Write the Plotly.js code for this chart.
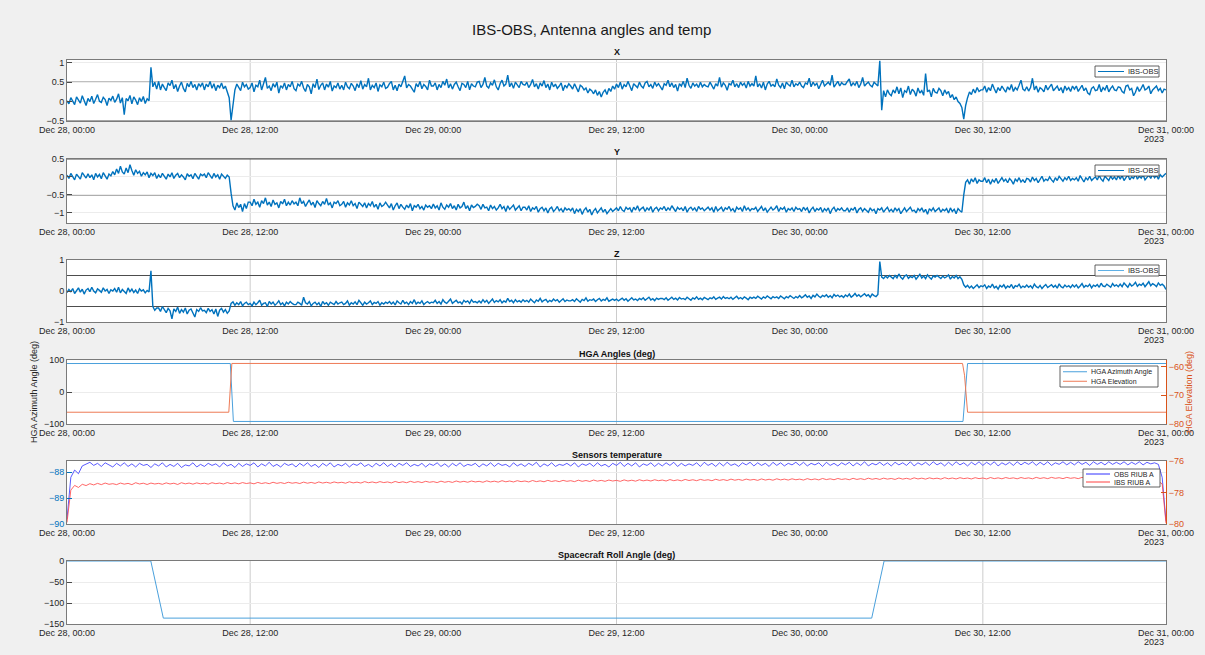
<!DOCTYPE html>
<html>
<head>
<meta charset="utf-8">
<script src="https://cdn.plot.ly/plotly-3.0.1.min.js"></script>
<style>html,body{margin:0;padding:0;background:#f0f0f0;}#chart{width:1205px;height:655px;}</style>
</head>
<body>
<div id="chart"></div>
<script>
// ---------- DATA ----------
const startDate = '2023-12-28T00:00:00Z';
const angleStepHours = 0.125; // X, Y, Z samples every 7.5 minutes
const tempStepHours = 0.25;   // temperature samples every 15 minutes
const tickHours = [0, 12, 24, 36, 48, 60, 72];
const tickLabels = ['Dec 28, 00:00', 'Dec 28, 12:00', 'Dec 29, 00:00', 'Dec 29, 12:00', 'Dec 30, 00:00', 'Dec 30, 12:00', 'Dec 31, 00:00'];
const yearLabel = '2023';

const xAngle = [
 0.02,-0.06,0.10,0.00,-0.08,0.12,0.04,-0.04,0.15,0.02,-0.10,0.08,0.00,0.14,-0.05,0.06,0.18,0.01,-0.02,0.11,0.05,-0.10,0.09,0.03,
 0.14,-0.02,0.06,0.20,-0.04,0.10,-0.34,0.08,0.02,0.16,-0.06,0.12,0.04,-0.08,0.10,0.00,0.13,-0.05,0.07,0.02,0.88,0.38,0.50,0.32,
 0.52,0.30,0.45,0.36,0.28,0.48,0.41,0.55,0.33,0.44,0.26,0.40,0.50,0.34,0.25,0.47,0.38,0.52,0.36,0.44,0.30,0.46,0.39,0.48,
 0.30,0.45,0.38,0.52,0.34,0.46,0.28,0.42,0.36,0.48,0.33,0.40,0.25,0.10,-0.48,0.00,0.30,0.45,0.36,0.28,0.50,0.38,0.44,0.32,
 0.36,0.48,0.25,0.42,0.38,0.55,0.30,0.45,0.62,0.34,0.40,0.28,0.46,0.37,0.50,0.22,0.41,0.35,0.48,0.30,0.44,0.38,0.52,0.33,
 0.28,0.45,0.40,0.52,0.35,0.26,0.44,0.38,0.20,0.46,0.36,0.58,0.31,0.42,0.48,0.30,0.45,0.37,0.52,0.27,0.40,0.36,0.48,0.32,
 0.42,0.30,0.50,0.38,0.33,0.47,0.40,0.28,0.46,0.36,0.54,0.32,0.44,0.38,0.60,0.30,0.42,0.36,0.48,0.26,0.43,0.38,0.50,0.34,
 0.37,0.46,0.52,0.30,0.42,0.28,0.45,0.38,0.50,0.66,0.35,0.44,0.40,0.30,0.24,0.46,0.38,0.52,0.33,0.44,0.39,0.30,0.55,0.40,
 0.40,0.48,0.30,0.44,0.36,0.52,0.42,0.58,0.35,0.46,0.32,0.44,0.50,0.38,0.28,0.47,0.44,0.36,0.52,0.30,0.46,0.40,0.38,0.50,
 0.52,0.36,0.44,0.62,0.40,0.35,0.48,0.42,0.56,0.38,0.30,0.46,0.55,0.40,0.45,0.68,0.38,0.48,0.34,0.50,0.42,0.36,0.52,0.44,
 0.42,0.50,0.36,0.44,0.57,0.38,0.46,0.32,0.48,0.40,0.54,0.36,0.45,0.30,0.50,0.38,0.45,0.34,0.40,0.48,0.28,0.42,0.36,0.46,
 0.40,0.32,0.46,0.36,0.25,0.42,0.38,0.30,0.35,0.22,0.32,0.28,0.20,0.30,0.16,0.26,0.12,0.24,0.30,0.18,0.34,0.26,0.40,0.32,
 0.45,0.36,0.50,0.32,0.44,0.38,0.52,0.40,0.28,0.46,0.42,0.36,0.50,0.40,0.35,0.48,0.52,0.38,0.44,0.34,0.50,0.40,0.46,0.36,
 0.30,0.46,0.42,0.55,0.38,0.48,0.36,0.44,0.27,0.46,0.40,0.52,0.36,0.60,0.42,0.34,0.48,0.40,0.45,0.36,0.50,0.38,0.44,0.40,
 0.38,0.50,0.42,0.32,0.46,0.40,0.62,0.37,0.48,0.42,0.29,0.46,0.43,0.55,0.38,0.46,0.36,0.50,0.42,0.47,0.35,0.52,0.40,0.46,
 0.40,0.66,0.38,0.46,0.35,0.50,0.30,0.45,0.52,0.40,0.44,0.38,0.58,0.42,0.36,0.48,0.33,0.50,0.44,0.40,0.55,0.38,0.46,0.42,
 0.50,0.40,0.36,0.48,0.45,0.60,0.38,0.50,0.42,0.47,0.33,0.46,0.55,0.40,0.44,0.50,0.42,0.68,0.37,0.46,0.52,0.40,0.49,0.44,
 0.44,0.52,0.58,0.40,0.48,0.42,0.52,0.36,0.45,0.62,0.40,0.46,0.50,0.42,0.38,0.50,0.44,0.40,1.05,-0.22,0.28,0.12,0.30,0.20,
 0.15,0.30,0.22,0.38,0.20,0.35,0.10,0.28,0.24,0.40,0.18,0.32,0.26,0.14,0.35,0.22,0.28,0.16,0.72,0.25,0.30,0.12,0.34,0.24,
 0.22,0.34,0.28,0.15,0.30,0.20,0.26,0.10,0.18,0.05,0.12,0.00,-0.05,-0.15,-0.45,-0.10,0.10,0.25,0.18,0.32,0.22,0.36,0.26,0.30,
 0.30,0.40,0.24,0.36,0.28,0.45,0.33,0.22,0.36,0.28,0.40,0.30,0.24,0.38,0.30,0.44,0.26,0.36,0.30,0.42,0.55,0.32,0.28,0.38,
 0.27,0.36,0.60,0.30,0.40,0.24,0.36,0.32,0.25,0.42,0.30,0.38,0.45,0.28,0.34,0.40,0.28,0.36,0.22,0.40,0.30,0.36,0.26,0.40,
 0.32,0.40,0.26,0.36,0.42,0.28,0.35,0.22,0.18,0.34,0.38,0.28,0.30,0.44,0.25,0.36,0.30,0.42,0.25,0.34,0.40,0.30,0.28,0.38,
 0.36,0.26,0.22,0.40,0.42,0.30,0.34,0.15,0.24,0.38,0.26,0.34,0.44,0.30,0.33,0.40,0.20,0.30,0.36,0.40,0.28,0.34,0.22,0.32,
 0.30];

const yAngle = [
 0.05,-0.04,0.10,0.00,-0.08,0.08,0.02,-0.06,0.12,0.04,-0.03,0.09,-0.02,0.06,-0.08,0.10,0.00,0.07,-0.05,0.12,0.02,-0.06,0.08,0.03,
 0.15,0.06,0.22,0.10,0.30,0.14,0.08,0.25,0.12,0.34,0.18,0.05,0.20,0.10,0.16,0.02,0.12,0.06,0.14,-0.02,0.10,0.04,0.12,-0.04,
 0.06,-0.02,0.10,0.02,-0.06,0.08,0.00,0.12,-0.04,0.05,0.10,-0.02,0.06,0.00,-0.08,0.09,0.02,0.06,-0.05,0.10,0.01,-0.06,0.08,0.04,
 0.08,-0.02,0.12,0.02,-0.04,0.10,0.00,0.06,-0.06,0.08,0.02,-0.04,0.05,0.00,-0.45,-0.80,-0.92,-0.72,-0.85,-0.76,-0.96,-0.74,-0.88,-0.70,
 -0.70,-0.80,-0.62,-0.76,-0.70,-0.84,-0.66,-0.74,-0.58,-0.78,-0.70,-0.82,-0.64,-0.76,-0.72,-0.86,-0.68,-0.75,-0.62,-0.80,-0.70,-0.78,-0.66,-0.75,
 -0.70,-0.80,-0.58,-0.74,-0.68,-0.82,-0.72,-0.64,-0.78,-0.70,-0.85,-0.66,-0.74,-0.80,-0.68,-0.76,-0.60,-0.78,-0.72,-0.86,-0.70,-0.74,-0.66,-0.80,
 -0.76,-0.68,-0.84,-0.72,-0.78,-0.66,-0.80,-0.74,-0.88,-0.70,-0.76,-0.82,-0.72,-0.86,-0.74,-0.80,-0.68,-0.84,-0.76,-0.90,-0.72,-0.82,-0.78,-0.70,
 -0.78,-0.86,-0.74,-0.92,-0.80,-0.72,-0.88,-0.76,-0.84,-0.90,-0.78,-0.86,-0.74,-0.94,-0.80,-0.84,-0.76,-0.88,-0.82,-0.92,-0.78,-0.84,-0.80,-0.88,
 -0.75,-0.86,-0.80,-0.92,-0.72,-0.84,-0.90,-0.78,-0.84,-0.74,-0.88,-0.80,-0.92,-0.76,-0.86,-0.82,-0.70,-0.88,-0.80,-0.94,-0.78,-0.85,-0.82,-0.76,
 -0.80,-0.90,-0.76,-0.86,-0.84,-0.94,-0.78,-0.88,-0.82,-0.92,-0.86,-0.76,-0.88,-0.82,-0.96,-0.80,-0.90,-0.84,-0.78,-0.92,-0.86,-0.80,-0.94,-0.84,
 -0.84,-0.92,-0.80,-0.96,-0.86,-0.90,-0.82,-0.98,-0.88,-0.84,-0.94,-0.86,-1.00,-0.88,-0.84,-0.96,-0.90,-0.82,-0.94,-0.88,-0.98,-0.86,-0.92,-0.88,
 -0.94,-0.86,-1.02,-0.90,-0.96,-0.88,-1.04,-0.92,-0.86,-0.98,-0.90,-1.06,-0.94,-0.88,-1.00,-0.92,-0.86,-0.98,-0.90,-1.02,-0.94,-0.88,-0.96,-0.90,
 -0.86,-0.94,-0.82,-0.92,-0.96,-0.84,-0.90,-0.86,-0.98,-0.84,-0.92,-0.80,-0.94,-0.88,-0.84,-0.96,-0.86,-0.92,-0.82,-0.98,-0.88,-0.84,-0.94,-0.86,
 -0.90,-0.82,-0.94,-0.86,-0.92,-0.80,-0.88,-0.96,-0.84,-0.90,-0.86,-0.94,-0.82,-0.98,-0.88,-0.84,-0.92,-0.86,-0.96,-0.82,-0.90,-0.86,-0.94,-0.88,
 -0.84,-0.92,-0.86,-0.98,-0.82,-0.94,-0.88,-0.84,-0.96,-0.86,-0.90,-0.82,-0.94,-0.88,-0.98,-0.84,-0.90,-0.86,-0.96,-0.80,-0.92,-0.86,-0.94,-0.88,
 -0.90,-0.84,-0.96,-0.88,-0.82,-0.94,-0.86,-0.98,-0.90,-0.84,-0.92,-0.88,-0.80,-0.96,-0.86,-0.90,-0.84,-0.98,-0.88,-0.92,-0.86,-0.96,-0.84,-0.90,
 -0.88,-0.96,-0.84,-0.92,-0.86,-1.00,-0.90,-0.84,-0.96,-0.88,-0.92,-0.85,-0.98,-0.88,-0.94,-0.86,-1.02,-0.90,-0.84,-0.96,-0.88,-0.92,-0.86,-0.94,
 -0.94,-0.86,-0.98,-0.88,-0.92,-0.84,-1.00,-0.90,-0.86,-0.96,-0.88,-0.93,-0.98,-0.86,-0.94,-0.90,-1.02,-0.88,-0.92,-0.86,-0.98,-0.90,-0.84,-0.96,
 -0.90,-0.98,-0.86,-0.94,-0.88,-1.02,-0.92,-0.86,-0.96,-0.90,-0.84,-0.95,-0.92,-1.00,-0.88,-0.94,-0.86,-0.98,-0.90,-1.04,-0.88,-0.94,-0.86,-0.96,
 -0.92,-0.86,-0.98,-0.90,-0.94,-0.88,-1.00,-0.86,-0.96,-0.90,-1.02,-0.88,-0.94,-0.98,-0.50,-0.15,-0.08,-0.20,-0.05,-0.14,-0.02,-0.18,-0.08,-0.12,
 -0.12,-0.02,-0.16,-0.06,-0.20,-0.08,-0.14,-0.04,-0.18,-0.10,-0.02,-0.12,-0.06,-0.16,-0.04,-0.10,-0.20,-0.06,-0.12,-0.02,-0.14,-0.08,-0.16,-0.04,
 -0.06,-0.14,0.00,-0.10,-0.04,-0.16,-0.08,0.02,-0.12,-0.06,-0.10,0.00,-0.08,-0.14,-0.02,-0.10,0.02,-0.06,-0.12,-0.02,-0.08,0.02,-0.10,-0.04,
 -0.08,-0.02,-0.12,0.04,-0.06,-0.14,-0.02,-0.08,0.02,-0.10,-0.04,0.00,-0.08,0.04,-0.06,-0.12,0.02,-0.04,-0.10,0.02,-0.06,0.00,-0.08,0.04,
 -0.06,0.04,-0.10,-0.02,0.06,-0.08,0.00,-0.04,0.08,-0.06,0.02,-0.03,0.06,-0.08,0.00,0.05,-0.04,0.08,-0.02,0.04,-0.06,0.06,0.00,0.04,
 0.10];

const zAngle = [
 -0.05,0.05,-0.02,0.08,-0.08,0.02,0.10,-0.04,0.06,-0.10,0.03,0.08,-0.02,0.12,0.00,-0.06,0.07,0.02,-0.04,0.10,0.00,0.05,-0.08,0.04,
 0.00,0.08,-0.04,0.12,-0.06,0.05,0.00,-0.08,0.10,-0.02,0.06,-0.05,0.03,-0.08,0.07,0.00,0.04,-0.06,0.02,-0.03,0.65,-0.50,-0.62,-0.55,
 -0.55,-0.66,-0.50,-0.62,-0.70,-0.56,-0.64,-0.90,-0.58,-0.66,-0.52,-0.72,-0.60,-0.68,-0.55,-0.74,-0.62,-0.58,-0.70,-0.84,-0.60,-0.66,-0.54,-0.64,
 -0.62,-0.70,-0.56,-0.66,-0.60,-0.74,-0.58,-0.82,-0.62,-0.56,-0.68,-0.60,-0.72,-0.64,-0.40,-0.35,-0.46,-0.38,-0.44,-0.34,-0.48,-0.40,-0.36,-0.44,
 -0.40,-0.48,-0.36,-0.44,-0.38,-0.30,-0.46,-0.40,-0.38,-0.50,-0.34,-0.42,-0.36,-0.46,-0.40,-0.32,-0.44,-0.38,-0.48,-0.36,-0.42,-0.34,-0.40,-0.44,
 -0.44,-0.36,-0.40,-0.46,-0.20,-0.38,-0.42,-0.34,-0.48,-0.40,-0.36,-0.44,-0.38,-0.50,-0.34,-0.42,-0.38,-0.46,-0.36,-0.40,-0.44,-0.34,-0.42,-0.38,
 -0.36,-0.44,-0.40,-0.32,-0.46,-0.38,-0.42,-0.35,-0.44,-0.30,-0.40,-0.46,-0.36,-0.42,-0.38,-0.32,-0.44,-0.37,-0.40,-0.34,-0.46,-0.38,-0.42,-0.36,
 -0.40,-0.34,-0.42,-0.36,-0.45,-0.32,-0.38,-0.42,-0.30,-0.40,-0.36,-0.44,-0.34,-0.40,-0.28,-0.42,-0.36,-0.40,-0.32,-0.44,-0.38,-0.34,-0.40,-0.36,
 -0.38,-0.30,-0.40,-0.34,-0.42,-0.28,-0.36,-0.40,-0.33,-0.26,-0.40,-0.34,-0.30,-0.38,-0.35,-0.42,-0.30,-0.36,-0.32,-0.40,-0.28,-0.36,-0.34,-0.38,
 -0.32,-0.38,-0.28,-0.36,-0.30,-0.40,-0.33,-0.26,-0.37,-0.31,-0.35,-0.28,-0.38,-0.32,-0.36,-0.24,-0.34,-0.30,-0.38,-0.28,-0.35,-0.31,-0.36,-0.28,
 -0.34,-0.30,-0.36,-0.26,-0.32,-0.38,-0.29,-0.33,-0.24,-0.35,-0.30,-0.27,-0.36,-0.30,-0.34,-0.26,-0.32,-0.28,-0.36,-0.30,-0.25,-0.34,-0.29,-0.32,
 -0.32,-0.28,-0.34,-0.25,-0.30,-0.36,-0.27,-0.31,-0.22,-0.33,-0.28,-0.30,-0.26,-0.34,-0.28,-0.24,-0.32,-0.27,-0.30,-0.22,-0.33,-0.28,-0.26,-0.30,
 -0.26,-0.32,-0.28,-0.23,-0.30,-0.25,-0.33,-0.27,-0.22,-0.29,-0.26,-0.31,-0.24,-0.28,-0.22,-0.30,-0.26,-0.20,-0.29,-0.25,-0.31,-0.23,-0.27,-0.24,
 -0.24,-0.28,-0.22,-0.30,-0.25,-0.20,-0.27,-0.23,-0.29,-0.21,-0.26,-0.24,-0.28,-0.20,-0.25,-0.30,-0.22,-0.26,-0.19,-0.27,-0.23,-0.28,-0.21,-0.25,
 -0.28,-0.22,-0.25,-0.19,-0.27,-0.23,-0.20,-0.26,-0.18,-0.24,-0.21,-0.25,-0.20,-0.27,-0.22,-0.17,-0.25,-0.21,-0.26,-0.19,-0.23,-0.28,-0.20,-0.24,
 -0.20,-0.24,-0.17,-0.22,-0.26,-0.19,-0.23,-0.16,-0.21,-0.25,-0.18,-0.22,-0.19,-0.24,-0.16,-0.21,-0.25,-0.18,-0.22,-0.15,-0.20,-0.24,-0.18,-0.22,
 -0.15,-0.22,-0.18,-0.12,-0.20,-0.16,-0.24,-0.14,-0.19,-0.10,-0.17,-0.21,-0.14,-0.18,-0.12,-0.20,-0.15,-0.22,-0.11,-0.17,-0.13,-0.19,-0.15,-0.21,
 -0.13,-0.18,-0.10,-0.20,-0.15,-0.08,-0.17,-0.12,-0.19,-0.14,-0.09,-0.16,-0.12,-0.20,-0.10,-0.15,-0.18,-0.11,0.95,0.45,0.40,0.48,0.42,0.50,
 0.46,0.40,0.50,0.42,0.55,0.44,0.38,0.48,0.52,0.41,0.47,0.43,0.50,0.38,0.46,0.54,0.42,0.48,0.40,0.52,0.44,0.38,0.49,0.45,
 0.50,0.44,0.40,0.48,0.42,0.46,0.52,0.38,0.47,0.42,0.50,0.40,0.46,0.38,0.20,0.12,0.18,0.10,0.16,0.08,0.14,0.20,0.11,0.17,
 0.14,0.20,0.08,0.16,0.12,0.22,0.10,0.15,0.06,0.18,0.13,0.20,0.09,0.16,0.12,0.21,0.08,0.17,0.14,0.22,0.10,0.16,0.12,0.19,
 0.12,0.17,0.09,0.22,0.14,0.10,0.18,0.08,0.15,0.21,0.11,0.16,0.20,0.12,0.18,0.09,0.23,0.14,0.10,0.19,0.13,0.17,0.11,0.20,
 0.13,0.20,0.10,0.16,0.24,0.12,0.18,0.14,0.22,0.10,0.19,0.15,0.21,0.12,0.25,0.16,0.14,0.22,0.18,0.12,0.24,0.16,0.20,0.14,
 0.22,0.14,0.26,0.18,0.12,0.24,0.16,0.20,0.28,0.15,0.22,0.18,0.25,0.14,0.22,0.30,0.17,0.24,0.20,0.14,0.26,0.18,0.22,0.16,
 0.05];

const hgaAzHours = [0, 10.7, 10.9, 58.7, 59.0, 72];
const hgaAzimuth = [89, 89, -92, -92, 89, 89];
const hgaElHours = [0, 10.6, 10.8, 58.67, 58.8, 59.0, 72];
const hgaElevation = [-75.9, -75.9, -58.9, -58.9, -63, -75.9, -75.9];

const obsRiubA = [
 -89.80,-88.20,-87.92,-88.06,-87.76,-87.68,-87.62,-87.74,-87.66,-87.78,-87.64,-87.72,
 -87.80,-87.66,-87.76,-87.64,-87.78,-87.68,-87.80,-87.66,-87.74,-87.70,-87.82,-87.68,
 -87.76,-87.64,-87.80,-87.70,-87.78,-87.66,-87.82,-87.72,-87.76,-87.64,-87.80,-87.70,
 -87.78,-87.66,-87.74,-87.68,-87.80,-87.64,-87.76,-87.70,-87.82,-87.66,-87.78,-87.68,
 -87.74,-87.64,-87.80,-87.68,-87.76,-87.62,-87.78,-87.70,-87.80,-87.66,-87.74,-87.68,
 -87.80,-87.66,-87.76,-87.64,-87.78,-87.70,-87.82,-87.66,-87.76,-87.64,-87.80,-87.70,
 -87.76,-87.66,-87.80,-87.68,-87.74,-87.64,-87.78,-87.70,-87.80,-87.66,-87.76,-87.64,
 -87.78,-87.68,-87.80,-87.66,-87.74,-87.64,-87.78,-87.70,-87.76,-87.66,-87.80,-87.68,
 -87.74,-87.64,-87.78,-87.68,-87.80,-87.66,-87.76,-87.64,-87.78,-87.70,-87.74,-87.66,
 -87.80,-87.68,-87.76,-87.64,-87.78,-87.66,-87.74,-87.70,-87.80,-87.64,-87.76,-87.68,
 -87.78,-87.66,-87.74,-87.62,-87.80,-87.68,-87.76,-87.64,-87.78,-87.70,-87.74,-87.66,
 -87.76,-87.64,-87.80,-87.68,-87.74,-87.66,-87.78,-87.64,-87.76,-87.70,-87.80,-87.66,
 -87.74,-87.62,-87.78,-87.66,-87.76,-87.64,-87.80,-87.68,-87.74,-87.64,-87.78,-87.66,
 -87.76,-87.64,-87.74,-87.62,-87.78,-87.66,-87.76,-87.68,-87.74,-87.64,-87.78,-87.62,
 -87.74,-87.66,-87.78,-87.64,-87.76,-87.62,-87.74,-87.68,-87.78,-87.64,-87.72,-87.62,
 -87.76,-87.64,-87.74,-87.66,-87.78,-87.62,-87.74,-87.64,-87.76,-87.66,-87.72,-87.62,
 -87.74,-87.62,-87.76,-87.66,-87.72,-87.64,-87.78,-87.62,-87.74,-87.66,-87.76,-87.64,
 -87.72,-87.62,-87.76,-87.64,-87.74,-87.60,-87.76,-87.66,-87.72,-87.62,-87.74,-87.64,
 -87.76,-87.62,-87.72,-87.64,-87.74,-87.60,-87.76,-87.64,-87.72,-87.62,-87.74,-87.60,
 -87.72,-87.64,-87.76,-87.62,-87.74,-87.60,-87.72,-87.64,-87.76,-87.62,-87.72,-87.60,
 -87.74,-87.62,-87.72,-87.60,-87.76,-87.64,-87.72,-87.62,-87.74,-87.60,-87.72,-87.62,
 -87.70,-87.60,-87.74,-87.62,-87.72,-87.60,-87.74,-87.64,-87.70,-87.60,-87.72,-87.62,
 -87.72,-87.60,-87.70,-87.62,-87.74,-87.60,-87.70,-87.62,-87.72,-87.60,-87.70,-87.62,
 -87.70,-87.60,-87.72,-87.62,-87.70,-87.60,-87.72,-87.62,-87.68,-87.64,-87.70,-88.20,
 -89.90];

const ibsRiubA = [
 -79.90,-77.85,-77.55,-77.68,-77.48,-77.56,-77.44,-77.52,-77.42,-77.50,-77.40,-77.48,
 -77.44,-77.50,-77.40,-77.47,-77.42,-77.50,-77.38,-77.46,-77.41,-77.49,-77.40,-77.46,
 -77.42,-77.48,-77.39,-77.46,-77.41,-77.49,-77.38,-77.45,-77.40,-77.47,-77.39,-77.45,
 -77.41,-77.47,-77.38,-77.44,-77.40,-77.46,-77.37,-77.44,-77.39,-77.45,-77.37,-77.43,
 -77.39,-77.45,-77.36,-77.43,-77.38,-77.44,-77.35,-77.42,-77.37,-77.43,-77.35,-77.41,
 -77.37,-77.43,-77.34,-77.41,-77.36,-77.42,-77.33,-77.40,-77.35,-77.41,-77.33,-77.39,
 -77.35,-77.41,-77.32,-77.39,-77.34,-77.40,-77.31,-77.38,-77.33,-77.39,-77.31,-77.37,
 -77.33,-77.39,-77.30,-77.37,-77.32,-77.38,-77.29,-77.36,-77.31,-77.37,-77.29,-77.35,
 -77.31,-77.37,-77.28,-77.35,-77.30,-77.36,-77.27,-77.34,-77.29,-77.35,-77.27,-77.33,
 -77.29,-77.35,-77.26,-77.33,-77.28,-77.34,-77.25,-77.32,-77.27,-77.33,-77.25,-77.31,
 -77.27,-77.33,-77.24,-77.31,-77.26,-77.32,-77.23,-77.30,-77.25,-77.31,-77.23,-77.29,
 -77.25,-77.31,-77.22,-77.29,-77.24,-77.30,-77.21,-77.28,-77.23,-77.29,-77.21,-77.27,
 -77.23,-77.29,-77.20,-77.27,-77.22,-77.28,-77.19,-77.26,-77.21,-77.27,-77.19,-77.25,
 -77.21,-77.27,-77.18,-77.25,-77.20,-77.26,-77.17,-77.24,-77.19,-77.25,-77.17,-77.23,
 -77.19,-77.25,-77.16,-77.23,-77.18,-77.24,-77.15,-77.22,-77.17,-77.23,-77.15,-77.21,
 -77.17,-77.23,-77.14,-77.21,-77.16,-77.22,-77.13,-77.20,-77.15,-77.21,-77.13,-77.19,
 -77.15,-77.21,-77.12,-77.19,-77.14,-77.20,-77.11,-77.18,-77.13,-77.19,-77.11,-77.17,
 -77.13,-77.19,-77.10,-77.17,-77.12,-77.18,-77.09,-77.16,-77.11,-77.17,-77.09,-77.15,
 -77.11,-77.17,-77.08,-77.15,-77.10,-77.16,-77.07,-77.14,-77.09,-77.15,-77.07,-77.13,
 -77.09,-77.15,-77.06,-77.13,-77.08,-77.14,-77.06,-77.12,-77.08,-77.14,-77.06,-77.12,
 -77.08,-77.14,-77.05,-77.12,-77.07,-77.13,-77.05,-77.11,-77.07,-77.13,-77.05,-77.11,
 -77.07,-77.13,-77.04,-77.11,-77.06,-77.12,-77.04,-77.10,-77.06,-77.12,-77.04,-77.10,
 -77.06,-77.12,-77.04,-77.10,-77.06,-77.12,-77.04,-77.10,-77.06,-77.12,-77.04,-77.10,
 -77.06,-77.12,-77.04,-77.10,-77.06,-77.12,-77.04,-77.10,-77.06,-77.12,-77.30,-77.45,
 -79.95];

const rollHours = [0, 5.49, 6.31, 52.72, 53.53, 72];
const rollAngle = [0, 0, -136, -136, 0, 0];

// ---------- HELPERS ----------
const T0 = Date.parse(startDate);
function ts(h) { return new Date(T0 + h * 3600000).toISOString().slice(0, 19).replace('T', ' '); }
function timesFor(arr, step) { return arr.map((_, i) => ts(i * step)); }

// panel geometry in pixels (plot area: left 67, right 1166, top 60, bottom 624)
const W = 1205, H = 655, ML = 67, MR = 39, MT = 60, MB = 31;
const PH = H - MT - MB, PW = W - ML - MR;
const panels = [[60,121],[159,223],[260,322],[360,424],[461,524],[561,624]];
function py(p) { return (H - MB - p) / PH; }
function px(p) { return (p - ML) / PW; }

const FONT = 'Liberation Sans, Arial, sans-serif';
const TXT = '#262626';
const ORANGE = '#d95319';
const LINEBLUE = '#0072bd';
const AZBLUE = '#4aa0dc';
const ELORANGE = '#ee7a55';
const TEMPBLUE = '#3030ff';
const TEMPRED = '#ff4040';

const layout = {
  width: W, height: H,
  margin: {l: ML, r: MR, t: MT, b: MB},
  paper_bgcolor: '#f0f0f0', plot_bgcolor: '#ffffff',
  font: {family: FONT, size: 9, color: TXT},
  title: {text: 'IBS-OBS, Antenna angles and temp', font: {size: 15, color: '#1a1a1a', family: FONT},
          x: 0.491, xanchor: 'center', xref: 'container', y: 1 - 30 / H, yanchor: 'middle', yref: 'container'},
  showlegend: false,
  hovermode: false,
  shapes: [], annotations: []
};

const yRanges = [[-0.5, 1.07], [-1.28, 0.5], [-1, 1], [-100, 100], [-90, -87.57], [-150, 0]];
const yTicks = [[-0.5, 0, 0.5, 1], [-1, -0.5, 0, 0.5], [-1, 0, 1], [-100, 0, 100], [-90, -89, -88], [-150, -100, -50, 0]];
const panelTitles = ['X', 'Y', 'Z', 'HGA Angles (deg)', 'Sensors temperature', 'Spacecraft Roll Angle (deg)'];
const titleY = [52, 152, 254, 354, 455, 555];

for (let i = 0; i < 6; i++) {
  const n = i === 0 ? '' : String(i + 1);
  const [top, bot] = panels[i];
  layout['xaxis' + n] = {
    domain: [0, 1], anchor: 'y' + n, type: 'date',
    range: [ts(0), ts(72)], tickvals: tickHours.map(ts), ticktext: tickLabels, tickmode: 'array',
    showgrid: false, zeroline: false, showline: true, mirror: true, linecolor: '#7a7a7a', linewidth: 1,
    ticks: '', tickfont: {size: 9, color: TXT}, fixedrange: true
  };
  layout['yaxis' + n] = {
    domain: [py(bot), py(top)], anchor: 'x' + n, range: yRanges[i], tickvals: yTicks[i], tickmode: 'array',
    showgrid: true, gridcolor: '#ececec', zeroline: false, showline: true, mirror: true, linecolor: '#7a7a7a',
    ticks: 'inside', ticklen: 5, tickcolor: '#4a4a4a', tickfont: {size: 9, color: TXT}, fixedrange: true
  };
  layout.annotations.push({text: '<b>' + panelTitles[i] + '</b>', xref: 'paper', yref: 'paper', x: 0.5, y: py(titleY[i]),
    xanchor: 'center', yanchor: 'middle', showarrow: false, font: {size: 9, color: '#111'}});
  layout.annotations.push({text: yearLabel, xref: 'paper', yref: 'paper', x: px(1142), y: py(bot + 18),
    xanchor: 'left', yanchor: 'middle', showarrow: false, font: {size: 9, color: TXT}});
  [12, 36, 60].forEach(h => layout.shapes.push({type: 'line', xref: 'x' + n, yref: 'y' + n + ' domain',
    x0: ts(h), x1: ts(h), y0: 0, y1: 1, line: {color: '#cccccc', width: 1}, layer: 'below'}));
  if (i < 3) {
    [0.5, -0.5].forEach(v => layout.shapes.push({type: 'line', xref: 'x' + n + ' domain', yref: 'y' + n,
      x0: 0, x1: 1, y0: v, y1: v, line: {color: '#4d4d4d', width: 1}, layer: 'below'}));
  }
}
layout.yaxis4.title = {text: 'HGA Azimuth Angle (deg)', font: {size: 9, color: TXT}, standoff: 4};
layout.yaxis5.tickfont.color = LINEBLUE;
layout.yaxis5.tickcolor = LINEBLUE;

layout.yaxis7 = {overlaying: 'y4', side: 'right', anchor: 'x4', range: [-80, -57.7], tickvals: [-80, -70, -60],
  showgrid: false, zeroline: false, showline: true, linecolor: ORANGE, ticks: 'inside', ticklen: 5, tickcolor: ORANGE,
  tickfont: {size: 9, color: ORANGE}, title: {text: 'HGA Elevation (deg)', font: {size: 9, color: ORANGE}, standoff: 2}, fixedrange: true};
layout.yaxis8 = {overlaying: 'y5', side: 'right', anchor: 'x5', range: [-80, -76], tickvals: [-80, -78, -76],
  showgrid: false, zeroline: false, showline: true, linecolor: ORANGE, ticks: 'inside', ticklen: 5, tickcolor: ORANGE,
  tickfont: {size: 9, color: ORANGE}, fixedrange: true};

// compact MATLAB-style legend boxes (pixel geometry -> paper coords)
function addLegend(left, top, right, entries, rowH, sample, fsize) {
  const bottom = top + entries.length * rowH + 2;
  layout.shapes.push({type: 'rect', xref: 'paper', yref: 'paper', x0: px(left), x1: px(right), y0: py(bottom), y1: py(top),
    fillcolor: '#ffffff', line: {color: '#3a3a3a', width: 0.8}, layer: 'above'});
  entries.forEach((e, k) => {
    const cy = top + 1 + rowH * (k + 0.5);
    layout.shapes.push({type: 'line', xref: 'paper', yref: 'paper', x0: px(left + 3), x1: px(left + 3 + sample), y0: py(cy), y1: py(cy),
      line: {color: e.color, width: 1}, layer: 'above'});
    layout.annotations.push({text: e.name, xref: 'paper', yref: 'paper', x: px(left + 5 + sample), y: py(cy), xanchor: 'left', yanchor: 'middle',
      showarrow: false, font: {size: fsize, color: TXT}});
  });
}
addLegend(1095, 66, 1159, [{name: 'IBS-OBS', color: LINEBLUE}], 9, 26, 7.5);
addLegend(1095, 165, 1159, [{name: 'IBS-OBS', color: LINEBLUE}], 9, 26, 7.5);
addLegend(1095, 265, 1159, [{name: 'IBS-OBS', color: '#5eb0e6'}], 9, 26, 7.5);
addLegend(1060, 366, 1158, [{name: 'HGA Azimuth Angle', color: AZBLUE}, {name: 'HGA Elevation', color: ELORANGE}], 9.5, 24, 7);
addLegend(1083, 469, 1160, [{name: 'OBS RIUB A', color: TEMPBLUE}, {name: 'IBS RIUB A', color: TEMPRED}], 8, 24, 7);

const traces = [
  {x: timesFor(xAngle, angleStepHours), y: xAngle, xaxis: 'x', yaxis: 'y', name: 'IBS-OBS', mode: 'lines', line: {color: LINEBLUE, width: 1.4}},
  {x: timesFor(yAngle, angleStepHours), y: yAngle, xaxis: 'x2', yaxis: 'y2', name: 'IBS-OBS', mode: 'lines', line: {color: LINEBLUE, width: 1.4}},
  {x: timesFor(zAngle, angleStepHours), y: zAngle, xaxis: 'x3', yaxis: 'y3', name: 'IBS-OBS', mode: 'lines', line: {color: LINEBLUE, width: 1.4}},
  {x: hgaAzHours.map(ts), y: hgaAzimuth, xaxis: 'x4', yaxis: 'y4', name: 'HGA Azimuth Angle', mode: 'lines', line: {color: AZBLUE, width: 1}},
  {x: hgaElHours.map(ts), y: hgaElevation, xaxis: 'x4', yaxis: 'y7', name: 'HGA Elevation', mode: 'lines', line: {color: ELORANGE, width: 1}},
  {x: timesFor(obsRiubA, tempStepHours), y: obsRiubA, xaxis: 'x5', yaxis: 'y5', name: 'OBS RIUB A', mode: 'lines', line: {color: TEMPBLUE, width: 0.8}},
  {x: timesFor(ibsRiubA, tempStepHours), y: ibsRiubA, xaxis: 'x5', yaxis: 'y8', name: 'IBS RIUB A', mode: 'lines', line: {color: TEMPRED, width: 0.8}},
  {x: rollHours.map(ts), y: rollAngle, xaxis: 'x6', yaxis: 'y6', name: 'Spacecraft Roll Angle', mode: 'lines', line: {color: AZBLUE, width: 1}}
];

Plotly.newPlot('chart', traces, layout, {staticPlot: true, displayModeBar: false});
</script>
</body>
</html>
